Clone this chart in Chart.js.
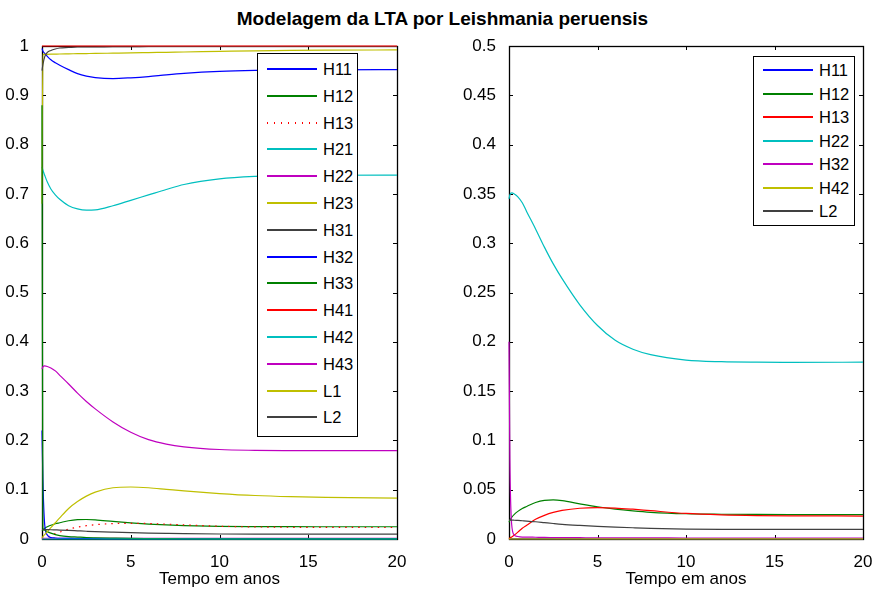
<!DOCTYPE html>
<html>
<head>
<meta charset="utf-8">
<script src="https://cdn.jsdelivr.net/npm/chart.js@4.4.1/dist/chart.umd.min.js"></script>
<style>
  body { margin: 0; background: #fff; }
  #page { position: relative; width: 873px; height: 593px; overflow: hidden;
          font-family: "Liberation Sans", Arial, sans-serif; color: #000; }
  #title { position: absolute; left: 6px; width: 873px; top: 8px; text-align: center;
           font-weight: bold; font-size: 19px; line-height: 22px; }
  canvas { position: absolute; top: 0; }
  #cv-left { left: 0; }
  #cv-right { left: 437px; }
  .legend { position: absolute; background: #fff; border: 1.5px solid #000; box-sizing: border-box; }
  .legend .row { position: absolute; left: 0; right: 0; display: flex; align-items: center; font-size: 16.5px; }
  .legend .sample { width: 50px; height: 2px; margin-left: 9px; margin-right: 6px; }
</style>
</head>
<body>
<div id="page">
  <div id="title">Modelagem da LTA por Leishmania peruensis</div>
  <canvas id="cv-left" width="437" height="593"></canvas>
  <canvas id="cv-right" width="436" height="593"></canvas>
  <div id="lg-left" class="legend" style="left:257px; top:53px; width:101px; height:384px;"></div>
  <div id="lg-right" class="legend" style="left:753px; top:56px; width:102px; height:170px;"></div>
</div>
<script>
(function () {
  'use strict';

  // time grid (anos)
  const tempo = [0, 0.05, 0.15, 0.3, 0.5, 0.75, 1, 1.5, 2, 2.5, 3, 4, 5, 6, 7, 8, 10, 12, 14, 16, 20];

  // left panel
  const leftH11 = [0.995, 0.99, 0.985, 0.979, 0.972, 0.966, 0.961, 0.952, 0.944, 0.939, 0.936, 0.934, 0.9355, 0.938, 0.9415, 0.9445, 0.9485, 0.9505, 0.9513, 0.9517, 0.952];
  const h12 = [0.017, 0.019, 0.022, 0.025, 0.028, 0.031, 0.033, 0.037, 0.0392, 0.0396, 0.0389, 0.0357, 0.0327, 0.0303, 0.0285, 0.0271, 0.0256, 0.0251, 0.0249, 0.0248, 0.0248];
  const h13 = [0, 0.001, 0.002, 0.004, 0.007, 0.011, 0.014, 0.020, 0.024, 0.027, 0.029, 0.0312, 0.0318, 0.0314, 0.0302, 0.0287, 0.0259, 0.0245, 0.0238, 0.0235, 0.0233];
  const leftH21 = [0.755, 0.748, 0.738, 0.724, 0.710, 0.698, 0.689, 0.676, 0.6695, 0.667, 0.6675, 0.676, 0.687, 0.698, 0.709, 0.719, 0.7305, 0.7355, 0.7373, 0.7378, 0.738];
  const leftH22 = [0.0015, 0.0015, 0.0015, 0.0015, 0.0015, 0.0015, 0.0015, 0.0015, 0.0015, 0.0015, 0.0015, 0.0015, 0.0015, 0.0015, 0.0015, 0.0015, 0.0015, 0.0015, 0.0015, 0.0015, 0.0015];
  const leftH23 = [0.68, 0.983, 0.983, 0.9832, 0.9834, 0.9836, 0.9838, 0.9841, 0.9844, 0.9847, 0.985, 0.9855, 0.986, 0.9866, 0.9872, 0.9878, 0.989, 0.9902, 0.991, 0.9915, 0.992];
  const leftH31 = [0.95, 0.962, 0.978, 0.987, 0.991, 0.994, 0.996, 0.997, 0.998, 0.998, 0.998, 0.9985, 0.9985, 0.999, 0.999, 0.999, 0.999, 0.999, 0.999, 0.999, 0.999];
  const leftH32 = [0.22, 0.12, 0.03, 0.008, 0.003, 0.002, 0.0015, 0.0012, 0.001, 0.001, 0.001, 0.0008, 0.0007, 0.0006, 0.0006, 0.0005, 0.0005, 0.0005, 0.0005, 0.0005, 0.0005];
  const leftH33 = [0.88, 0.02, 0.018, 0.015, 0.012, 0.009, 0.007, 0.005, 0.004, 0.003, 0.0025, 0.0018, 0.0012, 0.0009, 0.0007, 0.0005, 0.0003, 0.0002, 0.0002, 0.0002, 0.0002];
  const leftH41 = [1, 1, 1, 1, 1, 1, 1, 1, 1, 1, 1, 1, 1, 1, 1, 1, 1, 1, 1, 1, 1];
  const leftH42 = [0, 0, 0, 0, 0, 0, 0, 0, 0, 0, 0, 0, 0, 0, 0, 0, 0, 0, 0, 0, 0];
  const bigDecay = [0.345, 0.349, 0.351, 0.350, 0.347, 0.341, 0.332, 0.3145, 0.296, 0.279, 0.264, 0.2375, 0.2165, 0.2015, 0.1925, 0.187, 0.1815, 0.1798, 0.1793, 0.1792, 0.1793];
  const leftL1 = [0.002, 0.005, 0.009, 0.015, 0.023, 0.033, 0.043, 0.062, 0.076, 0.087, 0.095, 0.104, 0.1055, 0.104, 0.1008, 0.0975, 0.0922, 0.0882, 0.0858, 0.0844, 0.083];
  const l2 = [0.019, 0.0192, 0.0192, 0.019, 0.0188, 0.0185, 0.0182, 0.0175, 0.0166, 0.0157, 0.0149, 0.0138, 0.0129, 0.0121, 0.0114, 0.0108, 0.0101, 0.0098, 0.0097, 0.0097, 0.0097];

  // right panel
  const rightH11 = [0.0004, 0.0004, 0.0004, 0.0004, 0.0004, 0.0004, 0.0004, 0.0004, 0.0004, 0.0004, 0.0004, 0.0004, 0.0004, 0.0004, 0.0004, 0.0004, 0.0004, 0.0004, 0.0004, 0.0004, 0.0004];
  const rightH32 = [0.2, 0.08, 0.015, 0.004, 0.0025, 0.002, 0.002, 0.0018, 0.0016, 0.0015, 0.0014, 0.0013, 0.0012, 0.0012, 0.0011, 0.0011, 0.001, 0.001, 0.001, 0.001, 0.001];
  const rightH42 = [0.0002, 0.0002, 0.0002, 0.0002, 0.0002, 0.0002, 0.0002, 0.0002, 0.0002, 0.0002, 0.0002, 0.0002, 0.0002, 0.0002, 0.0002, 0.0002, 0.0002, 0.0002, 0.0002, 0.0002, 0.0002];

  const leftLabels = ['H11', 'H12', 'H13', 'H21', 'H22', 'H23', 'H31', 'H32', 'H33', 'H41', 'H42', 'H43', 'L1', 'L2'];
  const leftSeries = [leftH11, h12, h13, leftH21, leftH22, leftH23, leftH31, leftH32, leftH33, leftH41, leftH42, bigDecay, leftL1, l2];
  const rightLabels = ['H11', 'H12', 'H13', 'H22', 'H32', 'H42', 'L2'];
  const rightSeries = [rightH11, h12, h13, bigDecay, rightH32, rightH42, l2];

  const leftYTicks = { max: 1, step: 0.1 };
  const rightYTicks = { max: 0.5, step: 0.05 };

  // MATLAB line colour order
  const COLORS = ['#0000ff', '#008000', '#ff0000', '#00bfbf', '#bf00bf', '#bfbf00', '#404040'];
  const FONT = '"Liberation Sans", Arial, sans-serif';

  // box round the axes, ticks pointing inwards on all four sides (drawn under the curves)
  const matlabBox = {
    id: 'matlabBox',
    beforeDatasetsDraw(chart) {
      const { ctx, chartArea: a, scales: { x, y } } = chart;
      const len = 4;
      ctx.save();
      ctx.strokeStyle = '#000';
      ctx.lineWidth = 1;
      ctx.beginPath();
      x.ticks.forEach(function (t) {
        const px = Math.round(x.getPixelForValue(t.value)) + 0.5;
        ctx.moveTo(px, a.bottom); ctx.lineTo(px, a.bottom - len);
        ctx.moveTo(px, a.top); ctx.lineTo(px, a.top + len);
      });
      y.ticks.forEach(function (t) {
        const py = Math.round(y.getPixelForValue(t.value)) + 0.5;
        ctx.moveTo(a.left, py); ctx.lineTo(a.left + len, py);
        ctx.moveTo(a.right, py); ctx.lineTo(a.right - len, py);
      });
      ctx.stroke();
      ctx.lineWidth = 1.3;
      ctx.strokeRect(a.left + 0.5, a.top + 0.5, a.right - a.left, a.bottom - a.top);
      ctx.restore();
    }
  };

  function makeChart(canvasId, labels, series, yTicks, yWidth, padRight) {
    const n = labels.length;
    const datasets = series.map(function (vals, i) {
      return {
        label: labels[i],
        data: vals.map(function (v, k) { return { x: tempo[k], y: v }; }),
        borderColor: COLORS[i % COLORS.length],
        borderWidth: 1.2,
        borderDash: (canvasId === 'cv-left' && labels[i] === 'H13') ? [1.5, 5] : [],
        pointRadius: 0,
        cubicInterpolationMode: 'monotone',
        fill: false,
        clip: 2,
        order: n - i, // later series on top, like MATLAB
      };
    });

    return new Chart(document.getElementById(canvasId), {
      type: 'line',
      data: { datasets: datasets },
      options: {
        responsive: false,
        animation: false,
        events: [],
        layout: { padding: { top: 46, right: padRight, bottom: 0, left: 0 } },
        plugins: { legend: { display: false }, tooltip: { enabled: false } },
        scales: {
          x: {
            type: 'linear',
            min: 0,
            max: 20,
            ticks: { stepSize: 5, color: '#000', padding: 5, maxRotation: 0, font: { family: FONT, size: 17 } },
            grid: { display: false },
            border: { display: false },
            title: { display: true, text: 'Tempo em anos', color: '#000', padding: { top: 0, bottom: 3 }, font: { family: FONT, size: 17 } },
            afterFit: function (s) { s.height = 54; s.paddingLeft = 0; s.paddingRight = 0; },
          },
          y: {
            min: 0,
            max: yTicks.max,
            ticks: {
              stepSize: yTicks.step,
              color: '#000',
              padding: 5,
              font: { family: FONT, size: 17 },
              callback: function (v) { return String(+v.toFixed(3)); },
            },
            grid: { display: false },
            border: { display: false },
            afterFit: function (s) { s.width = yWidth; s.paddingTop = 0; s.paddingBottom = 0; },
          },
        },
      },
      plugins: [matlabBox],
    });
  }

  function buildLegend(boxId, chart, rowH, top0) {
    const box = document.getElementById(boxId);
    chart.data.datasets.forEach(function (ds, i) {
      const row = document.createElement('div');
      row.className = 'row';
      row.style.top = Math.round(top0 + i * rowH) + 'px';
      row.style.height = '26px';
      const sample = document.createElement('span');
      sample.className = 'sample';
      if (ds.borderDash.length) {
        sample.style.background = 'repeating-linear-gradient(90deg, ' + ds.borderColor + ' 0 1.5px, transparent 1.5px 7px)';
      } else {
        sample.style.background = ds.borderColor;
      }
      const txt = document.createElement('span');
      txt.textContent = ds.label;
      row.appendChild(sample);
      row.appendChild(txt);
      box.appendChild(row);
    });
  }

  const left = makeChart('cv-left', leftLabels, leftSeries, leftYTicks, 42, 40);
  const right = makeChart('cv-right', rightLabels, rightSeries, rightYTicks, 72, 10);

  buildLegend('lg-left', left, 26.8, 2);
  buildLegend('lg-right', right, 23.5, 0);
})();
</script>
</body>
</html>
